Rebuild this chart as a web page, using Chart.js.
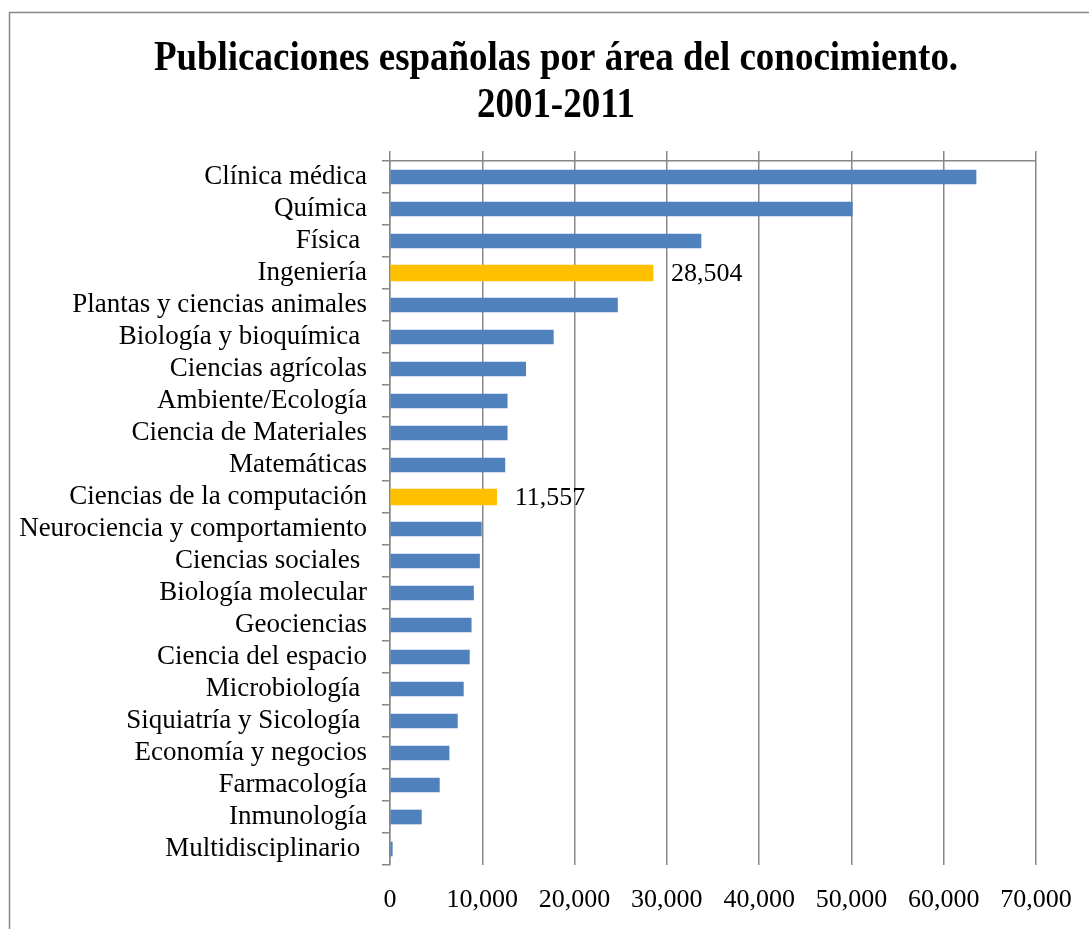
<!DOCTYPE html>
<html>
<head>
<meta charset="utf-8">
<title>Publicaciones españolas por área del conocimiento. 2001-2011</title>
<script src="https://cdn.jsdelivr.net/npm/chart.js@4/dist/chart.umd.min.js"></script>
<style>
  html, body { margin: 0; padding: 0; background: #ffffff; }
  #wrap { width: 1089px; height: 929px; position: relative; }
</style>
</head>
<body>
<div id="wrap"><canvas id="grafico" width="1089" height="929"></canvas></div>
<script>
// Título en dos líneas
const tituloLineas = ['Publicaciones españolas por área del conocimiento.', '2001-2011'];

// Áreas del conocimiento (de mayor a menor producción)
const areas = [
  'Clínica médica',
  'Química',
  'Física ',
  'Ingeniería',
  'Plantas y ciencias animales',
  'Biología y bioquímica ',
  'Ciencias agrícolas',
  'Ambiente/Ecología',
  'Ciencia de Materiales',
  'Matemáticas',
  'Ciencias de la computación',
  'Neurociencia y comportamiento',
  'Ciencias sociales ',
  'Biología molecular',
  'Geociencias',
  'Ciencia del espacio',
  'Microbiología ',
  'Siquiatría y Sicología ',
  'Economía y negocios',
  'Farmacología',
  'Inmunología',
  'Multidisciplinario '
];

// Número de publicaciones por área
const publicaciones = [
  63500, 50100, 33700, 28504, 24650, 17700, 14700, 12700, 12700, 12450, 11557,
  9900, 9700, 9050, 8800, 8600, 7950, 7300, 6400, 5350, 3400, 250
];

// Áreas resaltadas con su valor rotulado
const areasDestacadas = ['Ingeniería', 'Ciencias de la computación'];

// Marcas del eje de valores
const marcasEje = [0, 10000, 20000, 30000, 40000, 50000, 60000, 70000];

const azul = '#4F81BD';
const dorado = '#FFC000';
const gris = '#878787';
const fuente = '"Liberation Serif", "Times New Roman", serif';

const esDestacada = (i) => areasDestacadas.includes(areas[i]);
const serieGeneral = publicaciones.map((v, i) => (esDestacada(i) ? null : v));
const serieDestacada = publicaciones.map((v, i) => (esDestacada(i) ? v : null));

const formatoMiles = (v) => Number(v).toLocaleString('en-US');

// Marco gris alrededor del gráfico
const marco = {
  id: 'marco',
  beforeDraw(chart) {
    const ctx = chart.ctx;
    ctx.save();
    ctx.fillStyle = '#ffffff';
    ctx.fillRect(0, 0, chart.width, chart.height);
    ctx.strokeStyle = gris;
    ctx.lineWidth = 1.5;
    ctx.strokeRect(9.5, 12.5, chart.width + 20, chart.height + 20);
    ctx.restore();
  }
};

// Título en negrita, algo condensado
const titulo = {
  id: 'tituloCondensado',
  afterDraw(chart) {
    const ctx = chart.ctx;
    const cx = 556;
    const bases = [70, 117];
    ctx.save();
    ctx.fillStyle = '#000000';
    ctx.font = 'bold 42px ' + fuente;
    ctx.textAlign = 'center';
    ctx.textBaseline = 'alphabetic';
    tituloLineas.forEach((linea, k) => {
      ctx.save();
      ctx.translate(cx, bases[k]);
      ctx.scale(0.88, 1);
      ctx.fillText(linea, 0, 0);
      ctx.restore();
    });
    ctx.restore();
  }
};

// Rótulos de valor junto a las barras destacadas
const rotulos = {
  id: 'rotulosValor',
  afterDatasetsDraw(chart) {
    const ctx = chart.ctx;
    const meta = chart.getDatasetMeta(1);
    ctx.save();
    ctx.fillStyle = '#000000';
    ctx.font = '26px ' + fuente;
    ctx.textAlign = 'left';
    ctx.textBaseline = 'alphabetic';
    meta.data.forEach((barra, i) => {
      const v = serieDestacada[i];
      if (v === null) return;
      ctx.fillText(formatoMiles(v), barra.x + 18, barra.y + 8);
    });
    ctx.restore();
  }
};

new Chart(document.getElementById('grafico'), {
  type: 'bar',
  data: {
    labels: areas,
    datasets: [
      {
        label: 'Publicaciones',
        data: serieGeneral,
        backgroundColor: azul,
        barThickness: 14,
        grouped: false,
        skipNull: true
      },
      {
        label: 'Áreas destacadas',
        data: serieDestacada,
        backgroundColor: dorado,
        barThickness: 16,
        grouped: false,
        skipNull: true
      }
    ]
  },
  options: {
    indexAxis: 'y',
    responsive: false,
    devicePixelRatio: 1,
    animation: false,
    layout: { padding: { top: 151, right: 53, bottom: 0, left: 0 } },
    plugins: {
      legend: { display: false },
      title: { display: false },
      tooltip: { enabled: false }
    },
    scales: {
      x: {
        type: 'linear',
        position: 'bottom',
        min: marcasEje[0],
        max: marcasEje[marcasEje.length - 1],
        afterBuildTicks(scale) {
          scale.ticks = marcasEje.map((v) => ({ value: v }));
        },
        afterFit(scale) {
          scale.height = 64;
          scale.paddingLeft = 0;
          scale.paddingRight = 0;
        },
        grid: { color: gris, lineWidth: 1.5, drawTicks: false },
        border: { display: false },
        ticks: {
          color: '#000000',
          font: { family: fuente, size: 26 },
          padding: 20,
          callback: (v) => formatoMiles(v)
        }
      },
      xSuperior: {
        type: 'linear',
        position: 'top',
        min: marcasEje[0],
        max: marcasEje[marcasEje.length - 1],
        afterBuildTicks(scale) {
          scale.ticks = marcasEje.map((v) => ({ value: v }));
        },
        grid: { color: gris, lineWidth: 1.5, drawOnChartArea: false, drawTicks: true, tickLength: 10 },
        border: { display: true, color: gris, width: 1.5 },
        ticks: { display: false }
      },
      y: {
        type: 'category',
        position: 'left',
        afterFit(scale) { scale.width = 390; },
        grid: { color: gris, lineWidth: 1.5, drawOnChartArea: false, drawTicks: true, tickLength: 8, offset: true },
        border: { display: true, color: gris, width: 1.5 },
        ticks: {
          color: '#000000',
          font: { family: fuente, size: 27 },
          padding: 15,
          autoSkip: false
        }
      }
    }
  },
  plugins: [marco, titulo, rotulos]
});
</script>
</body>
</html>
